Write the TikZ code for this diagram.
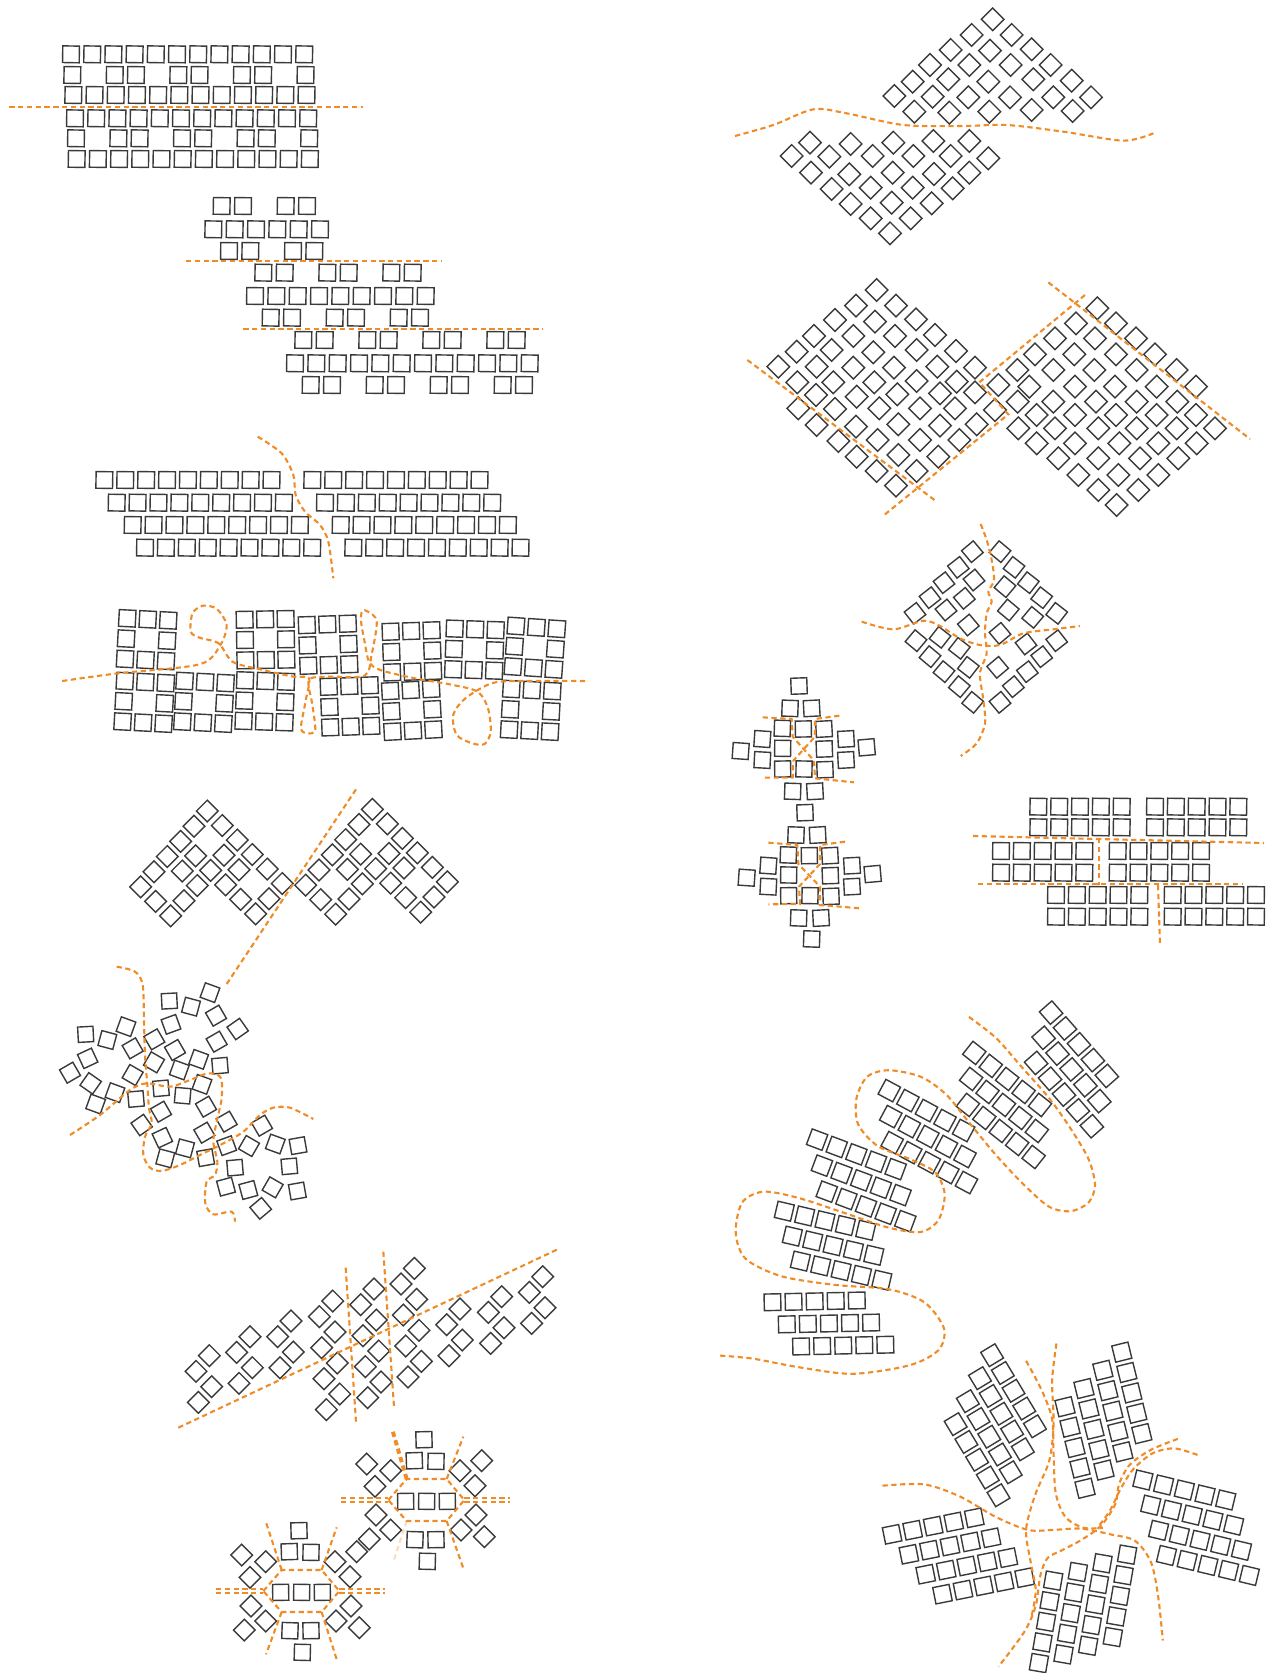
\documentclass[tikz,border=0pt]{standalone}
\usetikzlibrary{calc}
\definecolor{tilegray}{RGB}{58,58,58}
\definecolor{cutorange}{RGB}{240,140,40}
\tikzset{
  tile/.style={draw=tilegray, line width=0.4pt},
  cut/.style={draw=cutorange, line width=0.6pt, dash pattern=on 1.5pt off 1pt},
  zoomed/.style={scale=1/3}
}
\begin{document}
\begin{tikzpicture}[x=0.1mm, y=-0.1mm]
\useasboundingbox (0,0) rectangle (1276,1673);

\begin{scope}[shift={(0,30)}, zoomed]
\foreach \xo/\yo in {188/48, 195/170, 200/240, 205/362}
  \foreach \k in {0,...,11}
    \draw[tile, shift={(\xo+25+63.6*\k,\yo+25)}, rotate=-1] (-25,-25) rectangle (25,25);
\foreach \xo/\yo in {192/110, 203/300}
  \foreach \k in {0,2,3,5,6,8,9,11}
    \draw[tile, shift={(\xo+25+63.6*\k,\yo+25)}, rotate=-1] (-25,-25) rectangle (25,25);
\draw[cut] (28,230) -- (1088,230);
\end{scope}

\begin{scope}[shift={(180,185)}, zoomed]
\foreach \xt/\yt/\xm/\ym/\xb/\yb/\n in {100/38/75/108/122/173/2, 225/238/200/308/247/373/3, 345/440/320/510/367/575/4}{
  \pgfmathtruncatemacro\last{\n-1}
  \pgfmathtruncatemacro\full{3*\n-1}
  \foreach \p in {0,...,\last}
    \foreach \q in {0,1}{
      \draw[tile, shift={(\xt+25+192*\p+64*\q,\yt+25)}, rotate=-1] (-25,-25) rectangle (25,25);
      \draw[tile, shift={(\xb+25+192*\p+64*\q,\yb+25)}, rotate=-1] (-25,-25) rectangle (25,25);
    }
  \foreach \k in {0,...,\full}
    \draw[tile, shift={(\xm+25+64*\k,\ym+25)}, rotate=-1] (-25,-25) rectangle (25,25);
}
\draw[cut] (18,228) -- (785,228);
\draw[cut] (190,432) -- (1088,432);
\end{scope}

\begin{scope}[shift={(85,425)}, zoomed]
\foreach \xl/\xr/\yo in {33/657/140, 70/695/208, 118/742/275, 155/780/343}
  \foreach \k in {0,...,8}{
    \draw[tile, shift={(\xl+25+62.7*\k,\yo+25)}, rotate=-1] (-25,-25) rectangle (25,25);
    \draw[tile, shift={(\xr+25+62.7*\k,\yo+25)}, rotate=-1] (-25,-25) rectangle (25,25);
  }
\draw[cut] plot[smooth] coordinates {(518,35) (590,85) (625,150) (632,210) (660,260) (705,300) (730,350) (745,460)};
\end{scope}

\begin{scope}[shift={(50,595)}, xscale=0.3476, yscale=1/3]
\foreach \cx/\cy/\r in {278/134/-3, 620/134/1, 800/149/2, 1041/169/2, 1221/164/-2, 1395/158/-4, 271/322/-3, 443/322/-3, 618/319/-2, 863/334/2, 1041/346/3, 1383/346/-3}{
  \begin{scope}[shift={(\cx,\cy)}, rotate=\r]
  \foreach \a/\b in {-1/-1, 0/-1, 1/-1, -1/0, 1/0, -1/1, 0/1, 1/1}
    \draw[tile, shift={(59*\a,61*\b)}] (-24,-25) rectangle (24,25);
  \end{scope}
}
\draw[cut] plot[smooth, tension=0.5] coordinates {(35,258) (195,235) (430,208) (490,150) (508,90) (480,42) (440,32) (410,55) (405,110) (430,128) (485,145) (525,200) (600,222) (700,245) (745,250) (735,320) (722,400) (742,415) (763,405) (755,330) (745,255) (800,245) (905,242) (925,180) (940,80) (915,50) (898,48) (895,80) (905,140) (918,200) (950,225) (1050,250) (1150,268) (1230,290) (1260,340) (1268,410) (1250,447) (1215,445) (1170,420) (1160,360) (1195,310) (1270,265) (1350,258) (1540,258)};
\end{scope}

\begin{scope}[shift={(120,780)}, zoomed]
\foreach \bx/\by in {262/93, 757/88}
  \foreach \i/\j in {0/0,1/0,0/1,2/0,0/2,3/0,2/1,1/2,0/3,4/0,3/1,2/2,1/3,0/4,5/0,3/2,2/3,0/5,5/1,4/2,2/4,1/5,5/2,2/5}
    \draw[tile, shift={(\bx-40*\i+45*\j,\by+45.5*\i+43.5*\j)}, rotate=45] (-23,-23) rectangle (23,23);
\draw[cut] (708,28) -- (318,615);
\end{scope}

\begin{scope}[shift={(50,955)}, zoomed]
\foreach \x/\y/\r in {107/238/3, 172/255/-15, 228/215/-20, 113/310/25, 60/353/30, 122/385/-35, 137/447/-20, 195/413/-20, 248/280/30, 248/360/-30, 258/432/5, 313/253/30, 312/322/-30, 363/208/20, 358/138/3, 423/155/-15, 480/113/-20, 498/182/30, 563/222/35, 375/285/30, 388/345/-20, 446/313/-20, 500/260/30, 510/332/5, 333/400/5, 398/422/-5, 456/388/-20, 468/455/30, 333/470/30, 275/510/35, 337/548/25, 346/610/-15, 405/580/-15, 463/533/30, 530/500/30, 467/608/10, 530/572/20, 597/573/-30, 636/512/30, 676/567/-20, 744/572/10, 555/638/5, 718/634/5, 528/695/15, 595/705/15, 668/697/-30, 742/708/10, 632/760/40}
  \draw[tile, shift={(\x,\y)}, rotate=\r] (-23,-23) rectangle (23,23);
\draw[cut] plot[smooth] coordinates {(200,35) (255,50) (278,90) (282,200) (285,300) (292,390) (297,460) (305,505) (285,545) (280,600) (300,638) (335,648) (390,630) (450,600) (520,565) (580,530) (630,480) (670,458) (720,458) (790,492)};
\draw[cut] plot[smooth] coordinates {(60,540) (150,480) (240,405) (290,385) (360,395) (420,375) (475,355) (512,368) (515,430) (500,500) (490,560) (502,620) (495,660) (470,680) (466,745) (490,778) (545,770) (555,800)};
\end{scope}

\begin{scope}[shift={(160,1235)}, zoomed]
\foreach \tx/\ty/\n in {148/362/1, 270/305/1, 393/258/1, 518/198/3, 642/162/3, 763/100/3, 900/222/1, 1025/185/1, 1148/125/1}
  \foreach \k in {0,...,\n}{
    \draw[tile, shift={(\tx+7*\k,\ty+93*\k)}, rotate=45] (-23,-23) rectangle (23,23);
    \draw[tile, shift={(\tx-40+7*\k,\ty+47+93*\k)}, rotate=45] (-23,-23) rectangle (23,23);
  }
\draw[cut] (55,578) -- (1195,42);
\draw[cut] (557,98) -- (588,560);
\draw[cut] (670,50) -- (702,515);
\end{scope}

\begin{scope}[shift={(200,1415)}, zoomed]
\foreach \cx/\cy in {305/528, 680/255}{
  \begin{scope}[shift={(\cx,\cy)}]
  \foreach \x/\y/\r in {-63/4/1, 0/4/-1, 62/4/1, -37/-118/2, 28/-116/-1, -8/-181/1.5, -35/119/-2, 28/119/1, 2/184/-1.5}
    \draw[tile, shift={(\x,\y)}, rotate=\r] (-24,-24) rectangle (24,24);
  \foreach \x/\y in {-180/-108, -108/-88, -155/-41, -152/45, -108/90, -172/117, 100/-88, 165/-118, 145/-43, 148/45, 103/90, 173/110}
    \draw[tile, shift={(\x,\y)}, rotate=45] (-23,-23) rectangle (23,23);
  \draw[cut] (-115,0) -- (-60,-63) -- (60,-63) -- (113,0) -- (60,63) -- (-60,63) -- cycle;
  \draw[cut] (-257,-5) -- (-115,-5) (-257,5) -- (-115,5) (113,-5) -- (250,-5) (113,5) -- (250,5);
  \end{scope}
}
\draw[cut] (245,465) -- (198,322) (365,465) -- (410,337) (245,591) -- (198,718) (365,591) -- (410,733);
\draw[cut, line width=1.1pt] (620,192) -- (578,48);
\draw[cut] (740,192) -- (790,65) (740,318) -- (790,460);
\draw[cut, opacity=0.3] (620,318) -- (580,440);
\end{scope}

\begin{scope}[shift={(730,0)}, zoomed]
\foreach \x/\y in {788/58, 725/105, 845/105, 662/150, 780/152, 905/148, 600/195, 718/195, 842/195, 962/195, 548/245, 655/238, 775/245, 910/238, 1025/242, 493/288, 608/290, 715/292, 840/292, 970/292, 1083/292, 553/335, 658/338, 778/335, 905/330, 1028/333,
  240/428, 362/432, 490/428, 610/423, 718/423, 185/468, 298/470, 428/468, 550/468, 662/468, 775/475, 243/518, 358/523, 488/518, 612/522, 718/518, 305/567, 422/563, 548/563, 668/565, 362/612, 485/608, 605/610, 422/655, 542/655, 480/700}
  \draw[tile, shift={(\x,\y)}, rotate=45] (-24,-24) rectangle (24,24);
\draw[cut] plot[smooth] coordinates {(15,408) (130,375) (250,328) (350,340) (520,375) (700,378) (830,375) (1000,395) (1180,422) (1270,400)};
\end{scope}

\begin{scope}[shift={(740,275)}, zoomed]
\foreach \x/\y in {410/45, 348/92, 468/92, 285/135, 405/140, 528/133, 222/183, 340/183, 465/183, 585/180, 170/230, 275/225, 400/232, 530/225, 648/228, 115/275, 230/275, 340/278, 462/278, 592/275, 705/278, 172/322, 280/322, 403/322, 530/318, 650/320, 228/360, 350/365, 472/358, 600/355, 705/352, 175/400, 285/402, 418/400, 540/400, 645/400, 765/405, 230/450, 348/455, 475/448, 600/452, 710/448, 295/498, 413/495, 540/495, 658/495, 350/545, 475/540, 595/545, 410/588, 530/588, 468/632, 775/330,
  1072/100, 1008/145, 1128/145, 945/190, 1065/190, 1188/190, 885/238, 1003/238, 1128/238, 1245/238, 832/285, 940/285, 1063/285, 1190/285, 1310/285, 868/335, 1005/335, 1125/335, 1250/335, 1368/335, 833/380, 940/380, 1068/380, 1190/380, 1312/380, 890/420, 1005/420, 1128/420, 1250/420, 1368/420, 835/460, 945/460, 1075/460, 1190/460, 1310/460, 1425/460, 890/505, 1005/505, 1138/505, 1255/505, 1370/505, 955/550, 1075/550, 1200/550, 1315/550, 1015/600, 1135/600, 1255/600, 1075/645, 1195/645, 1130/690}
  \draw[tile, shift={(\x,\y)}, rotate=45] (-24,-24) rectangle (24,24);
\draw[cut] (22,255) -- (590,680);
\draw[cut] (1035,60) -- (718,322) -- (805,418) -- (430,722);
\draw[cut] (925,22) -- (1530,492);
\end{scope}

\begin{scope}[shift={(720,520)}, zoomed]
\foreach \x/\y/\r in {757/95/40, 840/95/50, 715/142/38, 882/142/52, 672/188/38, 762/180/40, 855/200/50, 925/188/52, 630/233/38, 733/235/40, 965/233/52, 585/280/38, 678/270/40, 865/270/50, 1010/280/52, 745/315/40, 938/292/50, 588/362/50, 660/352/52, 840/340/40, 918/372/38, 1010/362/38, 630/410/50, 718/385/52, 965/410/38, 672/455/50, 745/442/52, 833/442/40, 922/455/38, 718/500/50, 880/500/40, 758/547/50, 840/547/40}
  \draw[tile, shift={(\x,\y)}, rotate=\r] (-23,-23) rectangle (23,23);
\draw[cut] plot[smooth] coordinates {(782,12) (800,60) (815,120) (822,180) (805,215) (815,245) (800,280) (795,340) (800,400) (780,460) (790,540) (795,610) (770,670) (722,708)};
\draw[cut] plot[smooth] coordinates {(425,305) (520,328) (610,302) (660,318) (720,355) (780,375) (840,375) (910,340) (1000,328) (1080,318)};
\foreach \cx/\cy in {250/687, 268/1067}
  \foreach \x/\y/\r in {-13/-189/2, -40/-122/-2, 25/-122/3, -63/-62/-2, 0/-60/1, 62/-60/3, -123/-30/-4, 128/-30/3, -188/6/-4, 190/-5/5, -62/-2/-1, 63/0/2, -123/33/-3, 128/33/3, -62/60/1, 2/60/-1, 65/62/2, -32/127/-2, 35/127/3}
    \draw[tile, shift={(\cx+\x,\cy+\y)}, rotate=\r] (-24,-24) rectangle (24,24);
\draw[tile, shift={(275,1257)}, rotate=-2] (-24,-24) rectangle (24,24);
\draw[cut] (128,592) -- (215,597) -- (218,650) -- (282,722) -- (285,775) -- (402,787);
\draw[cut] (358,587) -- (285,597) -- (285,650) -- (220,722) -- (218,773) -- (128,773);
\draw[cut] (145,968) -- (232,975) -- (235,1032) -- (300,1100) -- (300,1155) -- (420,1165);
\draw[cut] (375,965) -- (300,975) -- (300,1032) -- (237,1100) -- (240,1152) -- (145,1153);
\foreach \xl/\y in {930/835, 930/897, 818/968, 818/1033, 983/1100, 983/1165}
  \foreach \k in {0,...,4}{
    \draw[tile, shift={(\xl+25+62.5*\k,\y+25)}, rotate=-1] (-25,-25) rectangle (25,25);
    \draw[tile, shift={(\xl+375+62.5*\k,\y+25)}, rotate=-1] (-25,-25) rectangle (25,25);
  }
\draw[cut] (759,948) -- (1632,969);
\draw[cut] (774,1092) -- (1569,1092);
\draw[cut] (1137,954) -- (1137,1095);
\draw[cut] (1314,1095) -- (1320,1272);
\end{scope}

\foreach \ox/\oy/\rx/\ry/\nx/\ny/\r/\na/\nb in {
  1051.1/1012.6/13.93/15.83/-7.50/25.15/-48.7/4/2,
  974.3/1052.9/16.43/13.01/-3.21/26.02/-38.4/4/2,
  889.3/1090.6/18.57/9.97/1.43/26.02/-28.2/4/2,
  817.1/1139.6/19.64/7.37/4.82/26.02/-20.6/4/2,
  784.3/1211.2/20.36/4.77/8.04/24.94/-13.2/4/2,
  772.5/1302.2/21.07/-0.43/14.29/22.12/1.2/4/2,
  992.1/1355.2/10.71/17.78/-12.14/22.98/-58.9/4/3,
  1121.8/1352.1/5.0/20.38/-18.93/18.21/13.8/4/3,
  1142.9/1480.0/20.71/4.99/7.86/25.15/-13.5/4/3,
  1127.1/1554.6/-3.57/20.6/-24.64/8.67/-9.8/4/3,
  892.1/1534.3/20.54/-4.12/16.79/19.95/11.3/4/3}
  \foreach \a in {0,...,\na}
    \foreach \b in {0,...,\nb}
      \draw[tile, shift={(\ox+\rx*\a+\nx*\b,\oy+\ry*\a+\ny*\b)}, rotate=\r] (-8.3,-8.3) rectangle (8.3,8.3);

\begin{scope}[shift={(710,990)}, xscale=0.35714, yscale=0.43367]
\draw[cut] plot[smooth] coordinates {(725,62) (800,110) (870,175) (950,250) (1010,320) (1060,390) (1078,450) (1060,490) (1010,510) (950,500) (880,450) (800,380) (720,300) (660,240) (590,200) (500,185) (440,200) (410,250) (415,310) (470,360) (560,390) (630,420) (657,470) (640,530) (590,558) (500,548) (380,515) (250,480) (150,465) (90,490) (72,560) (100,620) (200,660) (350,680) (500,690) (600,720) (655,780) (640,830) (560,865) (400,885) (250,870) (120,850) (28,843)};
\draw[cut] plot[smooth] coordinates {(483,1143) (600,1140) (700,1168) (800,1215) (890,1245) (960,1245) (1040,1242) (1120,1255) (1190,1270) (1235,1320) (1255,1400) (1268,1500)};
\draw[cut] plot[smooth] coordinates {(970,815) (958,900) (962,1000) (950,1085) (910,1165) (885,1245) (898,1320) (912,1385) (900,1445)};
\draw[cut] plot[smooth] coordinates {(885,855) (930,925) (958,990) (962,1070) (968,1160) (995,1215) (1045,1240) (1100,1240)};
\draw[cut] plot[smooth] coordinates {(1310,1035) (1235,1060) (1175,1095) (1145,1140) (1135,1185) (1095,1235) (1040,1268) (985,1292) (945,1310) (925,1350) (912,1420) (880,1480) (808,1560)};
\draw[cut] plot[smooth] coordinates {(1365,1072) (1300,1057) (1240,1068) (1185,1105) (1150,1150) (1120,1200) (1085,1240)};
\end{scope}
\end{tikzpicture}
\end{document}
